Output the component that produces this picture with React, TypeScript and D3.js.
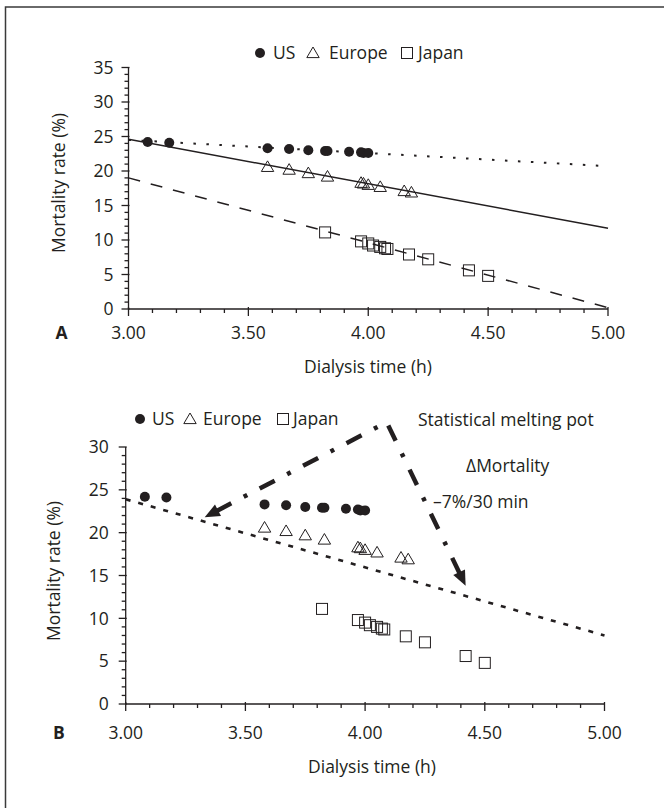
import React, { useRef, useEffect } from "react";
import * as d3 from "d3";

// values
const usTime = [3.08, 3.17, 3.58, 3.67, 3.75, 3.82, 3.83, 3.92, 3.97, 3.98, 4.0];
const usMort = [24.2, 24.1, 23.3, 23.2, 23.0, 22.9, 22.9, 22.8, 22.7, 22.6, 22.6];

const euTime = [3.58, 3.67, 3.75, 3.83, 3.97, 3.98, 4.0, 4.05, 4.15, 4.18];
const euMort = [20.6, 20.2, 19.7, 19.2, 18.3, 18.2, 18.0, 17.7, 17.1, 16.9];

const jpTime = [3.82, 3.97, 4.0, 4.02, 4.05, 4.07, 4.08, 4.17, 4.25, 4.42, 4.5];
const jpMort = [11.1, 9.8, 9.5, 9.2, 9.0, 8.8, 8.7, 7.9, 7.2, 5.6, 4.8];

// regression lines, value at 3.00 h and 5.00 h
const trendTime = [3.0, 5.0];
const trendUsA = [24.5, 20.7];
const trendEuA = [24.6, 11.7];
const trendJpA = [19.0, 0.2];
const trendAllB = [23.9, 8.0];

// the "melting pot" arrow in panel B
const arrowTime = [3.33, 4.09, 4.42];
const arrowMort = [21.8, 32.9, 13.8];

const legendLabels = ["US", "Europe", "Japan"];
const xTickLabels = ["3.00", "3.50", "4.00", "4.50", "5.00"];
const yTicksA = [0, 5, 10, 15, 20, 25, 30, 35];
const yTicksB = [0, 5, 10, 15, 20, 25, 30];

const INK = "#231f20";
const FONT = "'Open Sans', 'Noto Sans', sans-serif";
const FS = 17.5;

const triPath = "M0,-6L6.2,4.6L-6.2,4.6Z";

const drawMarker = (g, kind, cx, cy) => {
  if (kind === 0) {
    g.append("circle").attr("cx", cx).attr("cy", cy).attr("r", 5).attr("fill", INK);
  } else if (kind === 1) {
    g.append("path").attr("d", triPath).attr("transform", `translate(${cx},${cy})`)
      .attr("fill", "none").attr("stroke", INK).attr("stroke-width", 1);
  } else {
    g.append("rect").attr("x", cx - 5.5).attr("y", cy - 5.5).attr("width", 11).attr("height", 11)
      .attr("fill", "none").attr("stroke", INK).attr("stroke-width", 1);
  }
};

const drawAxes = (svg, x, y, yTicks, o) => {
  const x0 = x(3);
  const y0 = y(0);
  const yMax = yTicks[yTicks.length - 1];
  const g = svg.append("g").attr("stroke", INK).attr("stroke-width", 1.3);
  g.append("line").attr("x1", x0).attr("x2", x0).attr("y1", y0).attr("y2", y(yMax));
  g.append("line").attr("x1", x0).attr("x2", x(5)).attr("y1", y0).attr("y2", y0);

  d3.range(0, yMax + 1).forEach((v) => {
    const major = v % 5 === 0;
    g.append("line")
      .attr("x1", x0 - (major ? 7 : 4)).attr("x2", x0 + (major ? 1 : 0))
      .attr("y1", y(v)).attr("y2", y(v));
  });
  d3.range(0, 21).forEach((i) => {
    const t = 3 + i * 0.1;
    const major = i % 5 === 0;
    g.append("line")
      .attr("x1", x(t)).attr("x2", x(t))
      .attr("y1", y0 - (major ? 2 : 0)).attr("y2", y0 + (major ? 7 : 4));
  });

  const t = svg.append("g").attr("fill", INK).style("font-family", FONT).style("font-size", `${FS}px`);
  yTicks.forEach((v) => {
    t.append("text").attr("x", x0 - o.yLabelGap).attr("y", y(v)).attr("dy", "0.36em")
      .attr("text-anchor", "end").text(v);
  });
  xTickLabels.forEach((s) => {
    t.append("text").attr("x", x(+s)).attr("y", o.xLabelY).attr("text-anchor", "middle").text(s);
  });
  t.append("text").attr("x", o.xTitleX).attr("y", o.xTitleY).attr("text-anchor", "middle")
    .text("Dialysis time (h)");
  t.append("text").attr("transform", `translate(${o.yTitleX},${o.yTitleY}) rotate(-90)`)
    .attr("text-anchor", "middle").text("Mortality rate (%)");
  t.append("text").attr("x", o.letterX).attr("y", o.xLabelY).attr("text-anchor", "middle")
    .style("font-weight", "bold").text(o.letter);
};

const drawLegend = (svg, pos, cy) => {
  const g = svg.append("g");
  legendLabels.forEach((name, i) => {
    drawMarker(g, i, pos[i][0], cy);
    g.append("text").attr("x", pos[i][1]).attr("y", cy + 6.3).attr("fill", INK)
      .style("font-family", FONT).style("font-size", `${FS}px`).text(name);
  });
};

const drawPoints = (svg, x, y) => {
  const g = svg.append("g");
  [[usTime, usMort], [euTime, euMort], [jpTime, jpMort]].forEach(([tx, my], k) => {
    tx.forEach((tv, i) => drawMarker(g, k, x(tv), y(my[i])));
  });
};

const App = () => {
  const svgRef = useRef(null);

  useEffect(() => {
    const svg = d3.select(svgRef.current);
    svg.selectAll("*").remove();

    // frame (only top and left edges are visible)
    svg.append("path").attr("d", "M5.5,808V7H664").attr("fill", "none")
      .attr("stroke", "#3a3a3a").attr("stroke-width", 1.5);

    // ---------- panel A ----------
    const xA = d3.scaleLinear().domain([3, 5]).range([128.5, 608]);
    const yA = d3.scaleLinear().domain([0, 35]).range([309, 67.5]);
    const lineA = d3.line().x((d) => xA(d[0])).y((d) => yA(d[1]));

    drawLegend(svg, [[260, 273], [313, 329], [407, 418]], 53);
    drawAxes(svg, xA, yA, yTicksA, {
      yLabelGap: 15, xLabelY: 339, xTitleX: 368, xTitleY: 373,
      yTitleX: 65, yTitleY: 183, letter: "A", letterX: 61.5,
    });
    drawPoints(svg, xA, yA);

    const trends = [
      { v: trendUsA, dash: "2.5,10.5", w: 2 },
      { v: trendEuA, dash: null, w: 1.5 },
      { v: trendJpA, dash: "12,11", w: 1.5 },
    ];
    trends.forEach((tr) => {
      svg.append("path")
        .attr("d", lineA(trendTime.map((tv, i) => [tv, tr.v[i]])))
        .attr("fill", "none").attr("stroke", INK).attr("stroke-width", tr.w)
        .attr("stroke-dasharray", tr.dash);
    });

    // ---------- panel B ----------
    const xB = d3.scaleLinear().domain([3, 5]).range([125.7, 604.5]);
    const yB = d3.scaleLinear().domain([0, 30]).range([704, 447]);
    const lineB = d3.line().x((d) => xB(d[0])).y((d) => yB(d[1]));

    drawLegend(svg, [[140, 152], [190, 203], [283, 293]], 419);
    drawAxes(svg, xB, yB, yTicksB, {
      yLabelGap: 17, xLabelY: 739, xTitleX: 372, xTitleY: 773,
      yTitleX: 60, yTitleY: 571, letter: "B", letterX: 59,
    });
    drawPoints(svg, xB, yB);

    svg.append("path")
      .attr("d", lineB(trendTime.map((tv, i) => [tv, trendAllB[i]])))
      .attr("fill", "none").attr("stroke", INK).attr("stroke-width", 2.6)
      .attr("stroke-dasharray", "5,8");

    // arrow: shorten the shaft at both tips, then add filled heads
    const pts = arrowTime.map((tv, i) => [xB(tv), yB(arrowMort[i])]);
    const headLen = 15;
    const headW = 6.5;
    const shorten = (tip, from) => {
      const dx = from[0] - tip[0];
      const dy = from[1] - tip[1];
      const L = Math.hypot(dx, dy);
      return [tip[0] + (dx / L) * (headLen - 2), tip[1] + (dy / L) * (headLen - 2)];
    };
    const shaft = [shorten(pts[0], pts[1]), pts[1], shorten(pts[2], pts[1])];
    svg.append("path").attr("d", d3.line()(shaft)).attr("fill", "none")
      .attr("stroke", INK).attr("stroke-width", 4.5).attr("stroke-dasharray", "17,14,4,14")
      .attr("stroke-linejoin", "miter");
    [[pts[0], pts[1]], [pts[2], pts[1]]].forEach(([tip, from]) => {
      const a = Math.atan2(from[1] - tip[1], from[0] - tip[0]);
      const bx = tip[0] + Math.cos(a) * headLen;
      const by = tip[1] + Math.sin(a) * headLen;
      const px = -Math.sin(a) * headW;
      const py = Math.cos(a) * headW;
      svg.append("path")
        .attr("d", `M${tip[0]},${tip[1]}L${bx + px},${by + py}L${bx - px},${by - py}Z`)
        .attr("fill", INK);
    });

    const ann = svg.append("g").attr("fill", INK).style("font-family", FONT)
      .style("font-size", `${FS}px`);
    ann.append("text").attr("x", 418).attr("y", 426).text("Statistical melting pot");
    ann.append("text").attr("x", 466).attr("y", 472).text("\u0394Mortality");
    ann.append("text").attr("x", 433).attr("y", 508).text("\u20137%/30 min");
  }, []);

  return (
    <svg
      ref={svgRef}
      width={664}
      height={808}
      style={{ position: "absolute", left: 0, top: 0, background: "#fff" }}
    />
  );
};

export default App;
